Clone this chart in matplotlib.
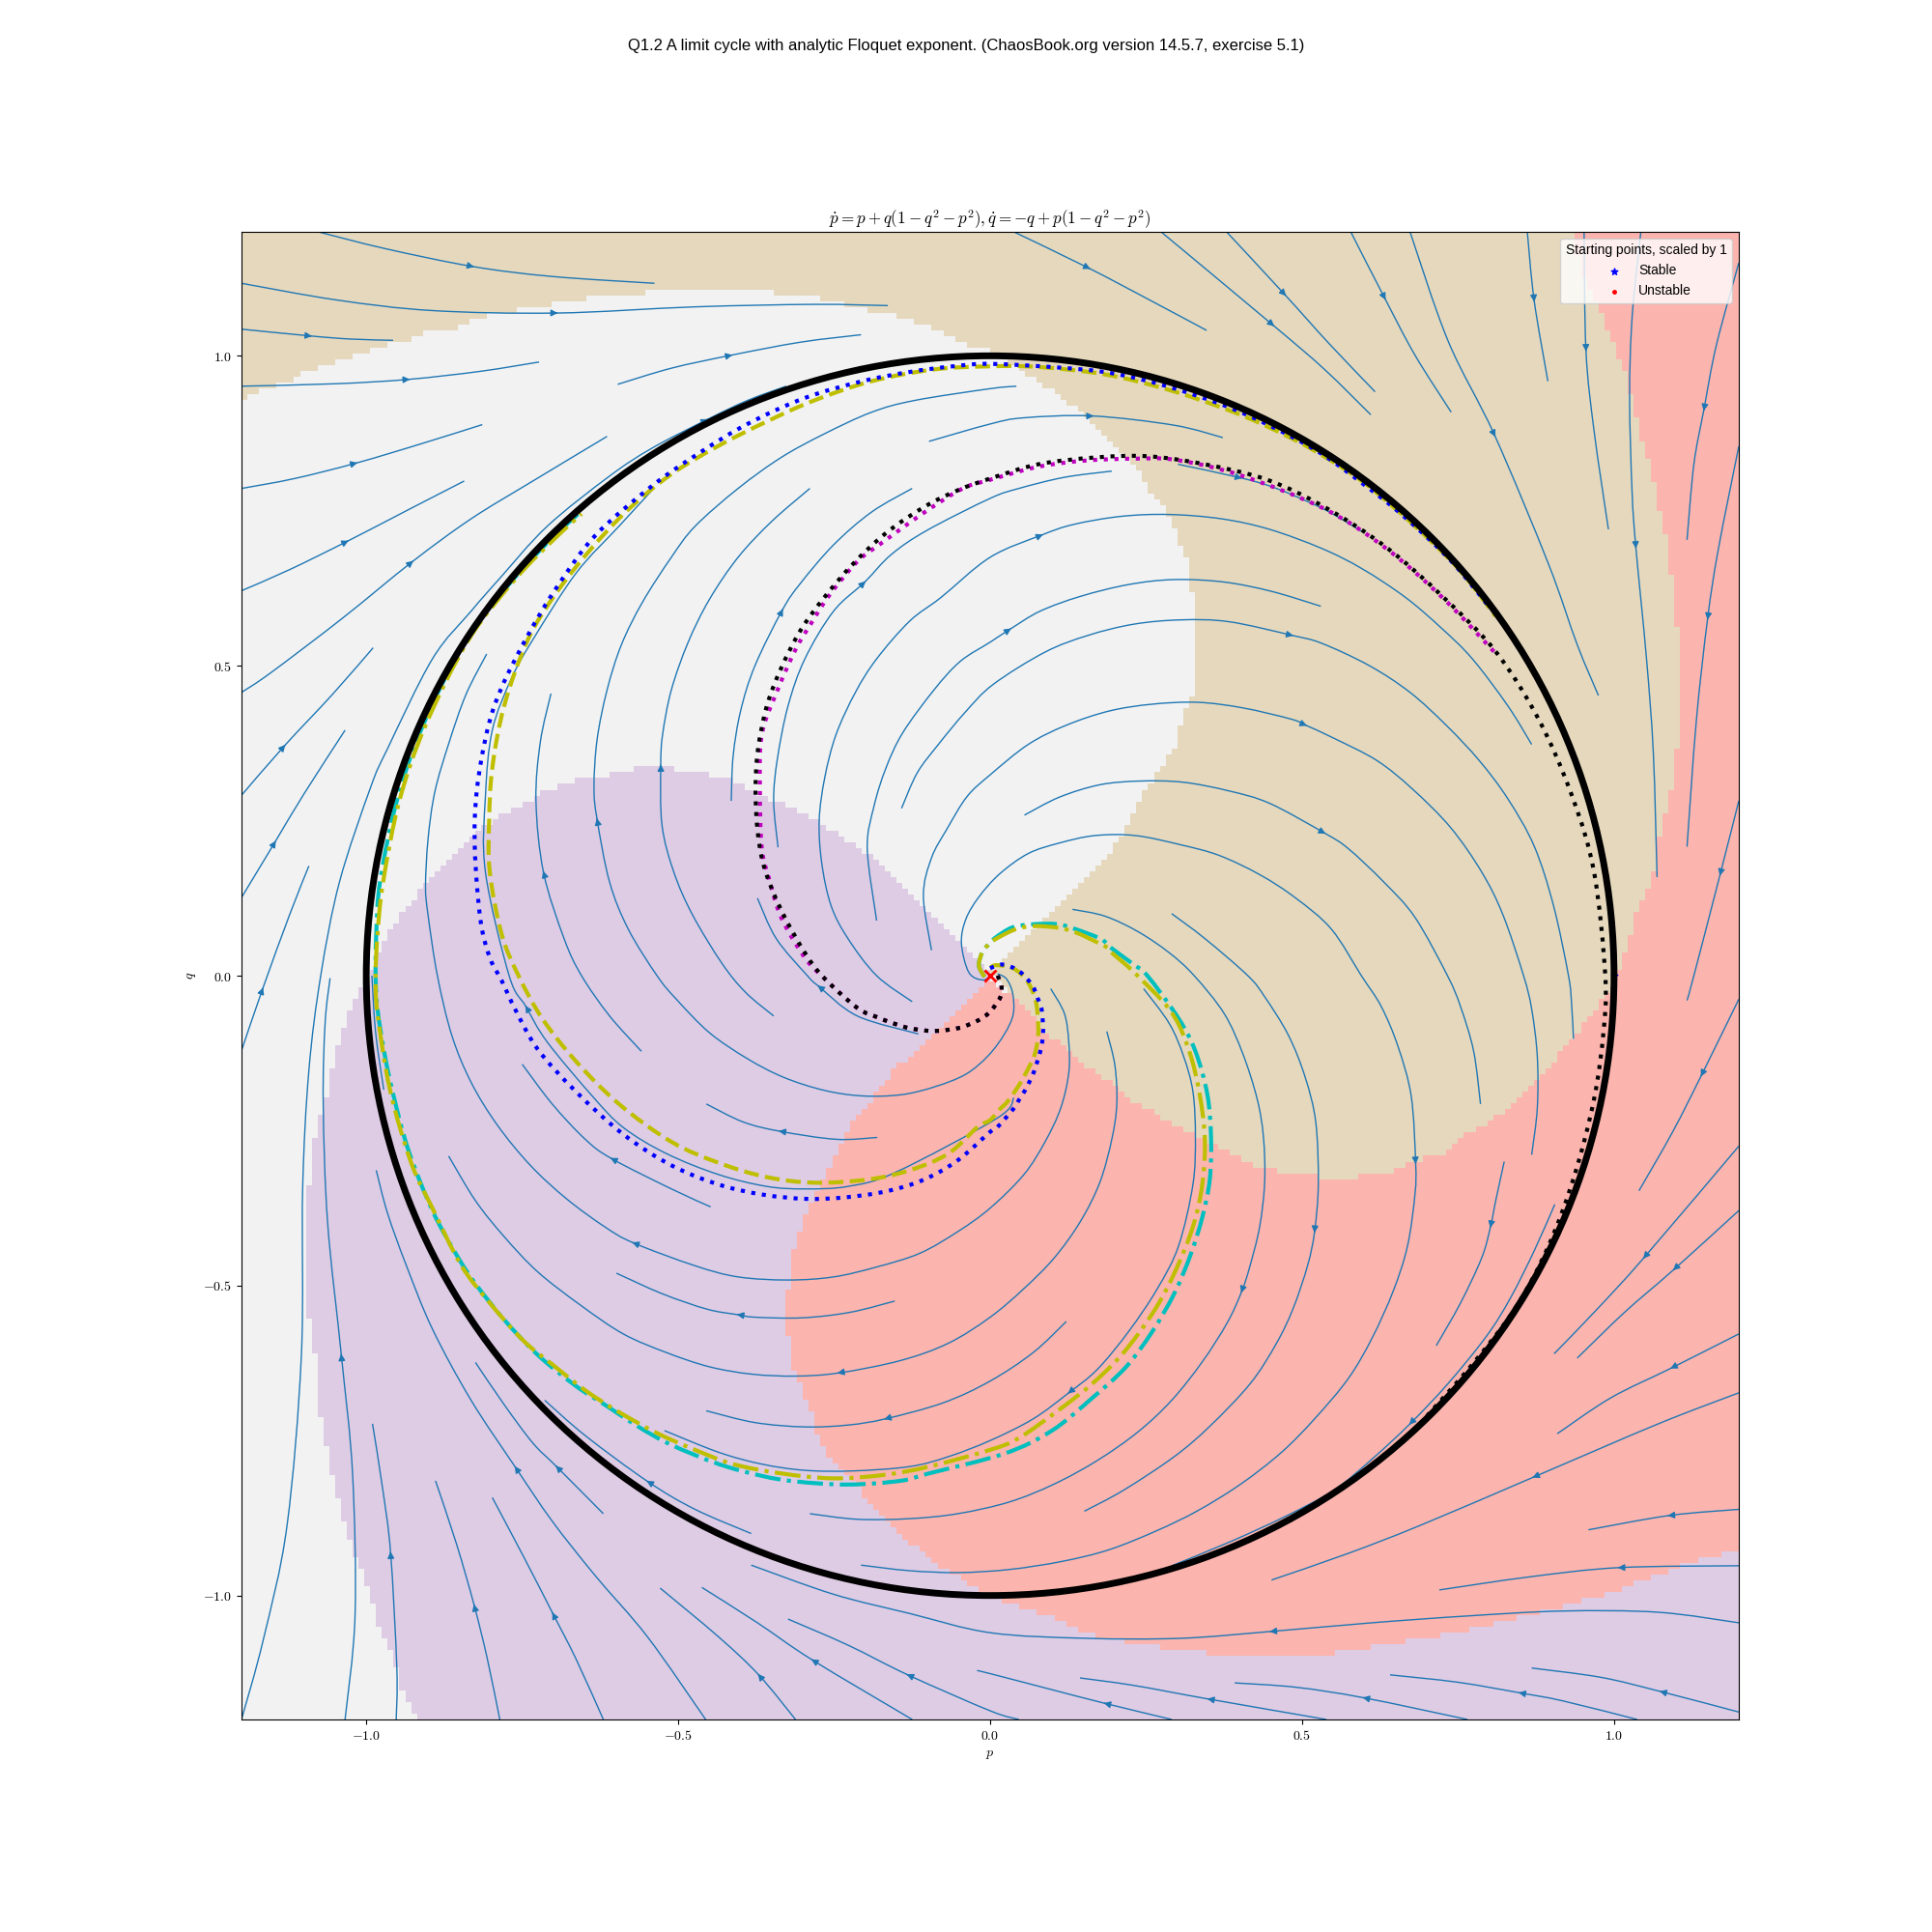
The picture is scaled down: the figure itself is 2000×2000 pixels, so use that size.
import numpy as np
import matplotlib
matplotlib.use("Agg")
import matplotlib.pyplot as plt
from matplotlib.colors import ListedColormap
from matplotlib.patches import Circle, FancyArrowPatch, PathPatch
from matplotlib.path import Path

plt.rcParams["font.family"] = ["Liberation Sans", "DejaVu Sans"]
plt.rcParams["mathtext.fontset"] = "cm"

# all values below are (p, q) pairs

# region borders, going out from the fixed point
edge_grey_tan = [(0, 0), (0.054, 0.060), (0.115, 0.121), (0.161, 0.167), (0.203, 0.213), (0.252, 0.304), (0.295, 0.366),
                 (0.314, 0.435), (0.325, 0.457), (0.333, 0.526), (0.325, 0.610), (0.314, 0.672), (0.298, 0.710),
                 (0.287, 0.741), (0.260, 0.779), (0.237, 0.817), (0.203, 0.855), (0.164, 0.894), (0.115, 0.932),
                 (0.050, 0.978), (0, 1.008), (-0.044, 1.020), (-0.090, 1.043), (-0.144, 1.062), (-0.228, 1.081),
                 (-0.289, 1.096), (-0.373, 1.104), (-0.522, 1.104), (-0.626, 1.096), (-0.691, 1.085), (-0.741, 1.077),
                 (-0.786, 1.069), (-0.825, 1.058), (-0.863, 1.043), (-0.901, 1.039), (-0.928, 1.027), (-0.985, 1.012),
                 (-1.012, 1.001), (-1.043, 0.993), (-1.069, 0.982), (-1.096, 0.974), (-1.115, 0.962), (-1.146, 0.951),
                 (-1.173, 0.943), (-1.192, 0.936), (-1.2, 0.926)]
edge_tan_red = [(0, 0), (0.031, -0.031), (0.057, -0.046), (0.084, -0.092), (0.126, -0.119), (0.153, -0.145), (0.199, -0.176),
                (0.230, -0.203), (0.268, -0.226), (0.314, -0.252), (0.367, -0.279), (0.421, -0.306), (0.459, -0.315),
                (0.532, -0.325), (0.578, -0.325), (0.643, -0.315), (0.681, -0.300), (0.727, -0.287), (0.757, -0.260),
                (0.796, -0.237), (0.830, -0.214), (0.864, -0.184), (0.895, -0.149), (0.926, -0.111), (0.956, -0.073),
                (0.979, -0.042), (1.002, 0), (1.017, 0.033), (1.040, 0.113), (1.063, 0.159), (1.075, 0.236), (1.094, 0.304),
                (1.105, 0.389), (1.105, 0.530), (1.094, 0.633), (1.086, 0.698), (1.075, 0.748), (1.056, 0.829),
                (1.033, 0.909), (1.021, 0.962), (0.998, 1.020), (0.972, 1.085), (0.952, 1.123), (0.933, 1.2)]
edge_red_purple = [(0, 0), (-0.029, -0.031), (-0.060, -0.069), (-0.113, -0.115), (-0.159, -0.157), (-0.182, -0.191),
                   (-0.220, -0.237), (-0.251, -0.295), (-0.289, -0.367), (-0.308, -0.421), (-0.316, -0.451), (-0.325, -0.520),
                   (-0.325, -0.570), (-0.316, -0.635), (-0.289, -0.696), (-0.278, -0.734), (-0.251, -0.788), (-0.228, -0.803),
                   (-0.205, -0.838), (-0.151, -0.895), (-0.090, -0.945), (-0.044, -0.975), (0, -1.002), (0.031, -1.010),
                   (0.096, -1.033), (0.153, -1.060), (0.191, -1.069), (0.241, -1.079), (0.295, -1.086), (0.383, -1.096),
                   (0.532, -1.096), (0.635, -1.079), (0.700, -1.067), (0.746, -1.060), (0.792, -1.050), (0.830, -1.039),
                   (0.868, -1.029), (0.933, -1.014), (0.964, -1.002), (0.995, -0.995), (1.048, -0.975), (1.105, -0.952),
                   (1.155, -0.937), (1.2, -0.927)]
edge_grey_purple = [(0, 0), (-0.029, 0.033), (-0.052, 0.060), (-0.090, 0.098), (-0.129, 0.136), (-0.167, 0.171), (-0.201, 0.201),
                    (-0.236, 0.220), (-0.274, 0.251), (-0.327, 0.278), (-0.366, 0.289), (-0.412, 0.314), (-0.450, 0.324),
                    (-0.515, 0.334), (-0.568, 0.334), (-0.610, 0.324), (-0.664, 0.314), (-0.691, 0.304), (-0.721, 0.295),
                    (-0.748, 0.278), (-0.798, 0.251), (-0.825, 0.228), (-0.844, 0.209), (-0.871, 0.182), (-0.909, 0.144),
                    (-0.928, 0.117), (-0.955, 0.083), (-0.974, 0.052), (-0.993, 0), (-1.012, -0.027), (-1.021, -0.046),
                    (-1.031, -0.061), (-1.039, -0.092), (-1.050, -0.122), (-1.060, -0.184), (-1.077, -0.230), (-1.088, -0.291),
                    (-1.096, -0.375), (-1.096, -0.520), (-1.088, -0.589), (-1.077, -0.627), (-1.077, -0.689), (-1.068, -0.738),
                    (-1.060, -0.784), (-1.050, -0.822), (-1.040, -0.861), (-1.031, -0.899), (-1.012, -0.952), (-0.995, -0.987),
                    (-0.985, -1.033), (-0.974, -1.067), (-0.955, -1.094), (-0.947, -1.140), (-0.936, -1.167), (-0.918, -1.2)]

# stream lines, in flow direction
s01 = [(-1.077, 1.2), (-0.970, 1.173), (-0.829, 1.144), (-0.702, 1.128), (-0.538, 1.117)]
s02 = [(-1.2, 1.117), (-1.047, 1.090), (-0.894, 1.073), (-0.695, 1.069), (-0.473, 1.079), (-0.282, 1.083), (-0.164, 1.081)]
s03 = [(-1.2, 1.043), (-1.089, 1.032), (-1.024, 1.027), (-0.957, 1.025)]
s04 = [(-1.2, 0.951), (-1.047, 0.955), (-0.932, 0.962), (-0.817, 0.975), (-0.723, 0.990)]
s05 = [(-0.597, 0.954), (-0.511, 0.980), (-0.415, 1.001), (-0.304, 1.022), (-0.207, 1.034)]
s06 = [(-1.2, 0.786), (-1.115, 0.802), (-1.016, 0.827), (-0.909, 0.859), (-0.814, 0.889)]
s07 = [(-1.2, 0.621), (-1.123, 0.655), (-1.030, 0.701), (-0.932, 0.752), (-0.843, 0.798)]
s08 = [(-1.2, 0.457), (-1.154, 0.488), (-1.039, 0.576), (-0.926, 0.668), (-0.832, 0.737), (-0.733, 0.798), (-0.614, 0.870)]
s09 = [(-1.2, 0.291), (-1.131, 0.371), (-1.054, 0.454), (-0.989, 0.529)]
s10 = [(-1.2, 0.126), (-1.146, 0.216), (-1.100, 0.293), (-1.034, 0.396)]
s11 = [(-1.2, -0.121), (-1.166, -0.021), (-1.123, 0.098), (-1.092, 0.177)]
s12 = [(-1.2, -1.2), (-1.165, -1.071), (-1.127, -0.887), (-1.104, -0.612), (-1.102, -0.344), (-1.092, -0.153), (-1.073, 0),
       (-1.043, 0.151), (-0.993, 0.304), (-0.966, 0.366), (-0.894, 0.511), (-0.832, 0.588), (-0.786, 0.641), (-0.710, 0.725),
       (-0.610, 0.806), (-0.542, 0.851), (-0.454, 0.897), (-0.389, 0.928), (-0.327, 0.951)]
s13 = [(-1.034, -1.2), (-1.018, -1.033), (-1.022, -0.803), (-1.040, -0.612), (-1.062, -0.398), (-1.069, -0.207), (-1.066, -0.077), (-1.058, -0.004)]
s14 = [(-0.952, -1.2), (-0.951, -1.117), (-0.961, -0.931), (-0.974, -0.826), (-0.990, -0.723)]
s15 = [(-0.786, -1.2), (-0.806, -1.102), (-0.827, -1.016), (-0.855, -0.918), (-0.889, -0.815)]
s16 = [(-0.620, -1.2), (-0.664, -1.102), (-0.701, -1.029), (-0.748, -0.937), (-0.798, -0.842)]
s17 = [(-0.456, -1.2), (-0.549, -1.067), (-0.633, -0.968), (-0.702, -0.880), (-0.761, -0.793), (-0.832, -0.685), (-0.894, -0.570),
       (-0.936, -0.467), (-0.966, -0.383), (-0.984, -0.314)]
s18 = [(-0.620, -0.868), (-0.695, -0.792), (-0.733, -0.754), (-0.779, -0.692), (-0.825, -0.624)]
s19 = [(-0.312, -1.2), (-0.371, -1.128), (-0.435, -1.067), (-0.529, -0.988)]
s20 = [(-0.125, -1.2), (-0.285, -1.104), (-0.373, -1.044), (-0.462, -0.987)]
s21 = [(0.046, -1.2), (0, -1.186), (-0.132, -1.128), (-0.228, -1.080), (-0.324, -1.038)]
s22 = [(0.291, -1.2), (0.184, -1.174), (0.084, -1.148), (0, -1.126), (-0.021, -1.121)]
s23 = [(0.539, -1.2), (0.350, -1.167), (0.230, -1.145), (0.144, -1.133)]
s24 = [(0.765, -1.2), (0.599, -1.165), (0.490, -1.148), (0.392, -1.141)]
s25 = [(1.037, -1.2), (0.918, -1.170), (0.849, -1.157), (0.750, -1.140), (0.641, -1.128)]
s26 = [(1.2, -1.188), (1.075, -1.155), (0.979, -1.132), (0.868, -1.117)]
s27 = [(1.2, -1.044), (1.071, -1.027), (0.918, -1.025), (0.765, -1.033), (0.612, -1.044), (0.450, -1.058), (0.306, -1.069),
       (0.153, -1.069), (0, -1.060), (-0.129, -1.029), (-0.251, -0.998), (-0.383, -0.951)]
s28 = [(1.2, -0.952), (1.008, -0.955), (0.864, -0.970), (0.720, -0.991)]
s29 = [(1.2, -0.861), (1.088, -0.871), (0.959, -0.894)]
s30 = [(1.2, -0.673), (1.071, -0.723), (0.871, -0.809), (0.689, -0.887), (0.574, -0.932), (0.451, -0.975)]
s31 = [(1.2, -0.578), (1.092, -0.633), (0.995, -0.681), (0.909, -0.739)]
s32 = [(1.2, -0.379), (1.096, -0.474), (1.017, -0.543), (0.941, -0.617)]
s33 = [(1.2, -0.275), (1.048, -0.455), (0.972, -0.539), (0.904, -0.610)]
s34 = [(1.2, -0.038), (1.140, -0.161), (1.094, -0.252), (1.040, -0.347)]
s35 = [(1.2, 0.282), (1.170, 0.163), (1.128, 0), (1.117, -0.040)]
s36 = [(1.2, 1.150), (1.164, 1.017), (1.144, 0.913), (1.128, 0.825), (1.117, 0.703)]
s37 = [(1.2, 0.854), (1.167, 0.687), (1.150, 0.576), (1.132, 0.412), (1.117, 0.208)]
s38 = [(1.043, 1.2), (1.029, 1.062), (1.025, 0.932), (1.029, 0.779), (1.035, 0.691), (1.052, 0.512), (1.063, 0.359), (1.069, 0.159)]
s39 = [(0.952, 1.2), (0.955, 1.009), (0.968, 0.879), (0.991, 0.720)]
s40 = [(0.861, 1.2), (0.872, 1.089), (0.894, 0.959)]
s41 = [(0.673, 1.2), (0.734, 1.024), (0.809, 0.871), (0.895, 0.664), (0.941, 0.534), (0.975, 0.452)]
s42 = [(0.578, 1.2), (0.633, 1.092), (0.681, 1.001), (0.739, 0.909)]
s43 = [(0.379, 1.2), (0.473, 1.098), (0.543, 1.020), (0.617, 0.942)]
s44 = [(0.274, 1.2), (0.454, 1.049), (0.536, 0.978), (0.610, 0.905)]
s45 = [(0.038, 1.2), (0.159, 1.141), (0.252, 1.092), (0.347, 1.041)]
s46 = [(-0.098, 0.862), (0, 0.890), (0.054, 0.900), (0.164, 0.903), (0.295, 0.888), (0.373, 0.868)]
s47 = [(0.003, 0.003), (-0.011, -0.007), (-0.034, 0.005), (-0.046, 0.052), (-0.039, 0.091), (-0.018, 0.127), (0.015, 0.164),
       (0.061, 0.197), (0.111, 0.214), (0.168, 0.226), (0.233, 0.226), (0.306, 0.211), (0.367, 0.194), (0.432, 0.163),
       (0.490, 0.125), (0.547, 0.075), (0.595, 0), (0.627, -0.050), (0.654, -0.115), (0.675, -0.195), (0.682, -0.302),
       (0.681, -0.352), (0.669, -0.436), (0.646, -0.509), (0.612, -0.585), (0.574, -0.650), (0.520, -0.715), (0.467, -0.769),
       (0.402, -0.820), (0.333, -0.863), (0.268, -0.895), (0.191, -0.926), (0.115, -0.945), (0.031, -0.958), (-0.050, -0.963),
       (-0.129, -0.960), (-0.207, -0.951)]
s48 = [(0.012, 0.003), (0.026, -0.005), (0.036, -0.028), (0.037, -0.062), (0.023, -0.094), (-0.003, -0.129), (-0.039, -0.159),
       (-0.088, -0.179), (-0.142, -0.192), (-0.205, -0.194), (-0.266, -0.185), (-0.331, -0.164), (-0.389, -0.134), (-0.450, -0.092),
       (-0.503, -0.038), (-0.534, 0), (-0.580, 0.075), (-0.610, 0.151), (-0.630, 0.252), (-0.635, 0.304), (-0.630, 0.381),
       (-0.614, 0.461), (-0.591, 0.534), (-0.557, 0.603), (-0.511, 0.675), (-0.473, 0.725), (-0.404, 0.786), (-0.335, 0.836),
       (-0.266, 0.874), (-0.190, 0.909), (-0.121, 0.928), (0, 0.947), (0.042, 0.951)]
s49 = [(0.097, -0.021), (0.119, -0.061), (0.126, -0.107), (0.126, -0.157), (0.113, -0.214), (0.088, -0.268), (0.054, -0.321), (0, -0.375),
       (-0.052, -0.413), (-0.113, -0.448), (-0.182, -0.470), (-0.251, -0.486), (-0.324, -0.491), (-0.404, -0.486), (-0.473, -0.468),
       (-0.572, -0.431), (-0.618, -0.405), (-0.679, -0.360), (-0.737, -0.306), (-0.790, -0.241), (-0.832, -0.172), (-0.863, -0.096),
       (-0.886, 0), (-0.901, 0.098), (-0.905, 0.144), (-0.901, 0.220), (-0.890, 0.297), (-0.867, 0.377), (-0.840, 0.454), (-0.807, 0.519)]
s50 = [(0.187, -0.090), (0.200, -0.145), (0.203, -0.207), (0.195, -0.264), (0.176, -0.333), (0.145, -0.396), (0.103, -0.455), (0.054, -0.505),
       (0, -0.551), (-0.067, -0.593), (-0.144, -0.621), (-0.243, -0.641), (-0.312, -0.646), (-0.381, -0.643), (-0.450, -0.631), (-0.519, -0.608),
       (-0.588, -0.578), (-0.656, -0.532), (-0.725, -0.478), (-0.779, -0.421), (-0.825, -0.363), (-0.868, -0.291)]
s51 = [(-0.153, -0.525), (-0.224, -0.543), (-0.301, -0.552), (-0.377, -0.551), (-0.404, -0.547), (-0.454, -0.538), (-0.526, -0.513), (-0.599, -0.480)]
s52 = [(0.122, -0.558), (0.069, -0.608), (0, -0.654), (-0.075, -0.689), (-0.168, -0.715), (-0.228, -0.725), (-0.297, -0.728), (-0.377, -0.721), (-0.455, -0.702)]
s53 = [(0.246, -0.021), (0.287, -0.077), (0.310, -0.130), (0.325, -0.187), (0.329, -0.260), (0.325, -0.337), (0.302, -0.436), (0.268, -0.505),
       (0.222, -0.574), (0.172, -0.635), (0.126, -0.673), (0.069, -0.715), (0, -0.750), (-0.067, -0.776), (-0.129, -0.792), (-0.220, -0.799),
       (-0.297, -0.798), (-0.366, -0.788), (-0.435, -0.769), (-0.522, -0.734)]
s54 = [(0.132, 0.107), (0.184, 0.096), (0.237, 0.071), (0.287, 0.037), (0.327, 0), (0.375, -0.061), (0.405, -0.126), (0.428, -0.199), (0.438, -0.260),
       (0.440, -0.333), (0.432, -0.405), (0.416, -0.470), (0.403, -0.510), (0.380, -0.560), (0.340, -0.623), (0.291, -0.685), (0.237, -0.736),
       (0.172, -0.782), (0.103, -0.820), (0.031, -0.849), (-0.052, -0.868), (-0.129, -0.876), (-0.213, -0.877), (-0.289, -0.868)]
s55 = [(0.291, 0.100), (0.344, 0.060), (0.413, 0), (0.440, -0.034), (0.478, -0.096), (0.505, -0.164), (0.522, -0.237), (0.526, -0.337), (0.520, -0.413),
       (0.509, -0.467), (0.486, -0.536), (0.459, -0.593), (0.417, -0.658), (0.352, -0.727), (0.295, -0.776), (0.214, -0.830), (0.151, -0.864)]
s56 = [(0.055, 0.259), (0.111, 0.288), (0.176, 0.308), (0.241, 0.314), (0.310, 0.312), (0.383, 0.298), (0.448, 0.278), (0.536, 0.230), (0.574, 0.205),
       (0.631, 0.151), (0.681, 0.094), (0.733, 0), (0.754, -0.050), (0.775, -0.122), (0.786, -0.207)]
s57 = [(-0.094, 0.041), (-0.107, 0.129), (-0.094, 0.190), (-0.069, 0.237), (-0.037, 0.289), (0, 0.324), (0.061, 0.373), (0.122, 0.404), (0.191, 0.427),
       (0.260, 0.438), (0.333, 0.441), (0.405, 0.432), (0.482, 0.414), (0.506, 0.404), (0.551, 0.383), (0.620, 0.347), (0.677, 0.301), (0.738, 0.239),
       (0.788, 0.167), (0.822, 0.098), (0.855, 0), (0.868, -0.054), (0.877, -0.130), (0.877, -0.214), (0.868, -0.289)]
s58 = [(-0.142, 0.270), (-0.117, 0.327), (-0.083, 0.373), (-0.040, 0.425), (0.005, 0.470), (0.088, 0.522), (0.157, 0.549), (0.230, 0.567),
       (0.306, 0.574), (0.383, 0.571), (0.484, 0.549), (0.532, 0.536), (0.608, 0.500), (0.673, 0.457), (0.731, 0.404), (0.784, 0.347), (0.830, 0.285),
       (0.872, 0.209), (0.903, 0.113), (0.927, 0), (0.932, -0.046), (0.935, -0.102)]
s59 = [(-0.182, 0.089), (-0.197, 0.205), (-0.186, 0.274), (-0.167, 0.335), (-0.140, 0.392), (-0.090, 0.461), (-0.048, 0.507), (0, 0.538), (0.032, 0.559),
       (0.080, 0.588), (0.145, 0.612), (0.222, 0.631), (0.295, 0.639), (0.375, 0.635), (0.451, 0.620), (0.530, 0.596)]
s60 = [(-0.125, -0.042), (-0.182, 0), (-0.228, 0.060), (-0.255, 0.113), (-0.270, 0.182), (-0.274, 0.251), (-0.265, 0.320), (-0.247, 0.389), (-0.216, 0.457),
       (-0.182, 0.511), (-0.129, 0.572), (-0.079, 0.610), (0, 0.675), (0.083, 0.711), (0.134, 0.728), (0.210, 0.741), (0.287, 0.744), (0.371, 0.737),
       (0.448, 0.720), (0.532, 0.689), (0.597, 0.656), (0.666, 0.610), (0.723, 0.561), (0.773, 0.511), (0.830, 0.435), (0.868, 0.373)]
s61 = [(-0.340, 0.207), (-0.347, 0.282), (-0.341, 0.350), (-0.324, 0.435), (-0.297, 0.511), (-0.251, 0.588), (-0.201, 0.635), (-0.159, 0.679), (-0.102, 0.718),
       (0, 0.770), (0.046, 0.786), (0.119, 0.804), (0.195, 0.814)]
s62 = [(0.301, 0.825), (0.402, 0.803), (0.459, 0.786), (0.536, 0.752), (0.597, 0.716)]
s63 = [(-0.115, -0.094), (-0.213, -0.065), (-0.275, -0.017), (-0.293, 0), (-0.343, 0.060), (-0.373, 0.125)]
s64 = [(-0.347, -0.065), (-0.392, -0.027), (-0.430, 0.020), (-0.477, 0.098), (-0.507, 0.167), (-0.526, 0.243), (-0.528, 0.339), (-0.525, 0.389), (-0.511, 0.461),
       (-0.484, 0.538), (-0.450, 0.607), (-0.404, 0.675), (-0.350, 0.733), (-0.289, 0.786)]
s65 = [(-0.415, 0.282), (-0.412, 0.354), (-0.400, 0.427), (-0.377, 0.500), (-0.333, 0.590), (-0.304, 0.633), (-0.251, 0.695), (-0.190, 0.748), (-0.125, 0.786)]
s66 = [(-0.559, -0.122), (-0.610, -0.065), (-0.655, 0), (-0.683, 0.060), (-0.716, 0.167), (-0.728, 0.282), (-0.721, 0.377), (-0.704, 0.455)]
s67 = [(0.038, -0.197), (0.011, -0.230), (-0.151, -0.317), (-0.228, -0.340), (-0.297, -0.344), (-0.358, -0.340), (-0.435, -0.321), (-0.519, -0.287), (-0.588, -0.245),
       (-0.637, -0.195), (-0.710, -0.107), (-0.744, -0.050), (-0.771, 0), (-0.809, 0.167), (-0.809, 0.289), (-0.798, 0.396), (-0.767, 0.480), (-0.733, 0.542),
       (-0.664, 0.649), (-0.595, 0.725), (-0.542, 0.783)]
s68 = [(-0.383, -0.900), (-0.473, -0.861), (-0.549, -0.816), (-0.649, -0.742), (-0.714, -0.685)]
s69 = [(-0.448, -0.373), (-0.511, -0.344), (-0.607, -0.295), (-0.649, -0.264), (-0.702, -0.207), (-0.750, -0.143)]
s70 = [(-0.181, -0.261), (-0.247, -0.264), (-0.337, -0.251), (-0.396, -0.236), (-0.455, -0.207)]
s71 = [(-0.972, -0.184), (-0.985, -0.092), (-0.991, 0)]
s72 = [(0.824, -0.300), (0.811, -0.360), (0.802, -0.405), (0.788, -0.455), (0.754, -0.528), (0.715, -0.597)]
s73 = [(0.905, -0.369), (0.872, -0.444), (0.834, -0.520), (0.796, -0.581), (0.734, -0.658), (0.673, -0.723), (0.612, -0.780), (0.551, -0.830), (0.474, -0.872),
       (0.383, -0.914), (0.291, -0.952)]

# arrow heads on the stream lines
arrow_heads = [(-0.829, 1.144), (-0.695, 1.069), (-1.089, 1.032), (-0.932, 0.962), (-0.415, 1.001), (-1.016, 0.827), (-1.030, 0.701), (-0.926, 0.668),
               (-1.131, 0.371), (-1.146, 0.216), (-1.166, -0.021), (-0.454, 0.897), (-1.040, -0.612), (-0.961, -0.931), (-0.827, -1.016), (-0.701, -1.029),
               (-0.761, -0.793), (-0.695, -0.792), (-0.371, -1.128), (-0.285, -1.104), (-0.132, -1.128), (0.184, -1.174), (0.350, -1.167), (0.599, -1.165),
               (0.849, -1.157), (1.075, -1.155), (0.450, -1.058), (1.008, -0.955), (1.088, -0.871), (0.871, -0.809), (1.092, -0.633), (1.096, -0.474),
               (1.048, -0.455), (1.140, -0.161), (1.170, 0.163), (1.144, 0.913), (1.150, 0.576), (1.035, 0.691), (0.955, 1.009), (0.872, 1.089),
               (0.809, 0.871), (0.633, 1.092), (0.473, 1.098), (0.454, 1.049), (0.159, 1.141), (0.164, 0.903), (0.682, -0.302), (-0.630, 0.252),
               (-0.572, -0.431), (-0.243, -0.641), (-0.404, -0.547), (-0.168, -0.715), (0.126, -0.673), (0.403, -0.510), (0.520, -0.413), (0.536, 0.230),
               (0.506, 0.404), (0.484, 0.549), (0.032, 0.559), (0.083, 0.711), (-0.201, 0.635), (0.402, 0.803), (-0.275, -0.017), (-0.528, 0.339),
               (-0.333, 0.590), (-0.716, 0.167), (-0.744, -0.050), (-0.549, -0.816), (-0.607, -0.295), (-0.337, -0.251), (0.802, -0.405), (0.673, -0.723)]

# orbits started near the unstable point
orbit_black_dots = [(0.012, 0), (0.018, -0.016), (0.017, -0.033), (0.008, -0.048), (-0.003, -0.061), (-0.017, -0.071), (-0.032, -0.078), (-0.048, -0.084),
                    (-0.065, -0.087), (-0.082, -0.089), (-0.099, -0.089), (-0.116, -0.087), (-0.133, -0.084), (-0.149, -0.079), (-0.166, -0.073), (-0.181, -0.067),
                    (-0.213, -0.052), (-0.266, -0.004), (-0.297, 0.037), (-0.335, 0.106), (-0.362, 0.174), (-0.373, 0.236), (-0.376, 0.304), (-0.372, 0.366),
                    (-0.358, 0.435), (-0.335, 0.496), (-0.304, 0.557), (-0.266, 0.610), (-0.220, 0.664), (-0.167, 0.714), (-0.106, 0.756), (-0.052, 0.783),
                    (0, 0.802), (0.077, 0.825), (0.168, 0.836), (0.252, 0.838), (0.344, 0.825), (0.444, 0.800), (0.536, 0.756), (0.635, 0.691), (0.727, 0.610),
                    (0.811, 0.522), (0.880, 0.412), (0.933, 0.289), (0.968, 0.167), (0.986, 0), (0.983, -0.092), (0.968, -0.199), (0.937, -0.321), (0.895, -0.436),
                    (0.842, -0.536), (0.773, -0.627), (0.696, -0.715)]
orbit_magenta_dots = [(0.012, 0), (0.018, -0.016), (0.017, -0.033), (0.008, -0.048), (-0.003, -0.061), (-0.017, -0.071), (-0.032, -0.078), (-0.048, -0.084),
                      (-0.065, -0.087), (-0.082, -0.089), (-0.099, -0.089), (-0.116, -0.087), (-0.133, -0.084), (-0.149, -0.079), (-0.166, -0.073), (-0.181, -0.067),
                      (-0.213, -0.052), (-0.266, -0.004), (-0.297, 0.029), (-0.335, 0.094), (-0.354, 0.155), (-0.366, 0.205), (-0.369, 0.297), (-0.366, 0.389),
                      (-0.339, 0.465), (-0.312, 0.526), (-0.289, 0.565), (-0.259, 0.612), (-0.213, 0.668), (-0.174, 0.698), (-0.106, 0.747), (-0.044, 0.786),
                      (0, 0.800), (0.077, 0.821), (0.153, 0.831), (0.230, 0.834), (0.298, 0.832), (0.402, 0.807), (0.536, 0.753), (0.635, 0.689), (0.727, 0.608),
                      (0.811, 0.519)]
orbit_blue_dots = [(0, 0.012), (0.017, 0.018), (0.034, 0.014), (0.048, 0.006), (0.060, -0.006), (0.070, -0.020), (0.076, -0.036), (0.082, -0.052), (0.084, -0.069),
                   (0.085, -0.086), (0.084, -0.103), (0.081, -0.120), (0.076, -0.137), (0.071, -0.153), (0.064, -0.169), (0.056, -0.185), (0.047, -0.199), (0.038, -0.214),
                   (0.011, -0.245), (0, -0.252), (-0.052, -0.298), (-0.106, -0.329), (-0.167, -0.348), (-0.236, -0.358), (-0.297, -0.360), (-0.366, -0.353), (-0.435, -0.337),
                   (-0.511, -0.306), (-0.588, -0.256), (-0.664, -0.187), (-0.725, -0.119), (-0.760, -0.057), (-0.783, -0.008), (-0.802, 0.029), (-0.817, 0.090), (-0.826, 0.205),
                   (-0.823, 0.297), (-0.806, 0.396), (-0.783, 0.465), (-0.741, 0.549), (-0.695, 0.626), (-0.633, 0.710), (-0.542, 0.790), (-0.465, 0.844), (-0.389, 0.890),
                   (-0.297, 0.932), (-0.205, 0.959), (-0.129, 0.974), (-0.060, 0.983), (0, 0.987), (0.111, 0.981), (0.195, 0.972), (0.283, 0.951), (0.375, 0.920), (0.451, 0.886),
                   (0.528, 0.844), (0.597, 0.794), (0.662, 0.742), (0.738, 0.670), (0.800, 0.595)]
orbit_yellow_dash = [(0, 0.013), (0.010, 0.017), (0.034, 0.013), (0.049, 0.003), (0.062, -0.013), (0.072, -0.036), (0.076, -0.062), (0.077, -0.096), (0.072, -0.125),
                     (0.062, -0.148), (0.046, -0.177), (0.028, -0.203), (0.015, -0.216), (0, -0.233), (-0.021, -0.245), (-0.067, -0.287), (-0.129, -0.314), (-0.197, -0.329),
                     (-0.282, -0.334), (-0.358, -0.325), (-0.435, -0.302), (-0.511, -0.268), (-0.595, -0.207), (-0.664, -0.138), (-0.718, -0.069), (-0.756, 0), (-0.783, 0.067),
                     (-0.802, 0.167), (-0.803, 0.251), (-0.798, 0.335), (-0.779, 0.435), (-0.741, 0.542), (-0.695, 0.618), (-0.641, 0.687), (-0.580, 0.752), (-0.511, 0.809),
                     (-0.435, 0.855), (-0.358, 0.894), (-0.282, 0.928), (-0.190, 0.959), (-0.090, 0.978), (0, 0.983), (0.077, 0.982), (0.184, 0.970), (0.283, 0.946), (0.375, 0.915),
                     (0.444, 0.886), (0.523, 0.845), (0.615, 0.783), (0.740, 0.668), (0.810, 0.580)]
orbit_cyan_dashdot = [(-0.009, -0.002), (-0.018, 0.016), (-0.013, 0.037), (-0.004, 0.049), (0.008, 0.061), (0.036, 0.078), (0.070, 0.083), (0.108, 0.083), (0.137, 0.075),
                      (0.174, 0.061), (0.186, 0.053), (0.195, 0.044), (0.230, 0.018), (0.252, 0), (0.302, -0.069), (0.329, -0.122), (0.348, -0.191), (0.354, -0.260), (0.352, -0.329),
                      (0.340, -0.390), (0.321, -0.451), (0.295, -0.513), (0.260, -0.574), (0.218, -0.631), (0.164, -0.681), (0.099, -0.734), (0.023, -0.771), (-0.098, -0.803),
                      (-0.144, -0.815), (-0.228, -0.821), (-0.312, -0.816), (-0.366, -0.807), (-0.435, -0.788), (-0.511, -0.757), (-0.565, -0.727), (-0.618, -0.692), (-0.664, -0.662),
                      (-0.725, -0.612), (-0.779, -0.555), (-0.825, -0.497), (-0.855, -0.451), (-0.894, -0.379), (-0.932, -0.283), (-0.955, -0.199), (-0.970, -0.130), (-0.982, -0.054),
                      (-0.985, 0), (-0.984, 0.067), (-0.978, 0.151), (-0.951, 0.282), (-0.909, 0.404), (-0.840, 0.542), (-0.763, 0.641), (-0.700, 0.708), (-0.660, 0.745)]
orbit_yellow_dashdot = [(-0.009, -0.002), (-0.018, 0.016), (-0.013, 0.037), (-0.004, 0.049), (0.007, 0.058), (0.041, 0.075), (0.072, 0.080), (0.111, 0.077), (0.139, 0.069),
                        (0.175, 0.052), (0.188, 0.045), (0.195, 0.037), (0.230, 0.006), (0.287, -0.054), (0.314, -0.107), (0.333, -0.176), (0.344, -0.260), (0.340, -0.337),
                        (0.325, -0.405), (0.298, -0.474), (0.264, -0.539), (0.214, -0.608), (0.164, -0.658), (0.111, -0.700), (0.046, -0.746), (0, -0.765), (-0.098, -0.792),
                        (-0.167, -0.805), (-0.251, -0.811), (-0.335, -0.803), (-0.412, -0.788), (-0.473, -0.765), (-0.534, -0.738), (-0.595, -0.704), (-0.649, -0.669), (-0.702, -0.627),
                        (-0.748, -0.589), (-0.802, -0.528), (-0.848, -0.467), (-0.894, -0.375), (-0.928, -0.302), (-0.962, -0.184), (-0.982, -0.061), (-0.985, 0), (-0.982, 0.067),
                        (-0.973, 0.151), (-0.947, 0.282), (-0.905, 0.404), (-0.836, 0.542), (-0.760, 0.641), (-0.697, 0.706), (-0.655, 0.745)]
cycle_centre = (0.0, 0.0)
cycle_radius = 1.0

tick_values = [-1.0, -0.5, 0.0, 0.5, 1.0]
tick_labels = ["$-1.0$", "$-0.5$", "$0.0$", "$0.5$", "$1.0$"]
region_colours = ["#f2f2f2", "#e5d8bd", "#fbb4ae", "#decbe4"]

streams = [s01, s02, s03, s04, s05, s06, s07, s08, s09, s10, s11, s12, s13, s14, s15, s16, s17, s18, s19, s20, s21, s22, s23, s24, s25,
           s26, s27, s28, s29, s30, s31, s32, s33, s34, s35, s36, s37, s38, s39, s40, s41, s42, s43, s44, s45, s46, s47, s48, s49, s50,
           s51, s52, s53, s54, s55, s56, s57, s58, s59, s60, s61, s62, s63, s64, s65, s66, s67, s68, s69, s70, s71, s72, s73]


def draw_curve(ax, pts, **kwargs):
    # round the read points with cubic pieces through them, so no corners show
    a = np.array(pts, dtype=float)
    verts = [a[0]]
    codes = [Path.MOVETO]
    for i in range(len(a) - 1):
        before = a[max(i - 1, 0)]
        after = a[min(i + 2, len(a) - 1)]
        verts += [a[i] + (a[i + 1] - before)/6.0, a[i + 1] - (after - a[i])/6.0, a[i + 1]]
        codes += [Path.CURVE4, Path.CURVE4, Path.CURVE4]
    ax.add_patch(PathPatch(Path(verts, codes), fill=False, capstyle="butt", joinstyle="round", **kwargs))


def heading_at(pt):
    # direction of the stream line segment closest to pt
    best = None
    best_d = 1e9
    pt = np.array(pt)
    for line in streams:
        a = np.array(line)
        for i in range(len(a) - 1):
            seg = a[i + 1] - a[i]
            t = np.clip(np.dot(pt - a[i], seg)/np.dot(seg, seg), 0, 1)
            d = np.linalg.norm(a[i] + t*seg - pt)
            if d < best_d:
                best_d = d
                best = seg
    return best/np.linalg.norm(best)


# background cells, classified from the read borders
edges = np.linspace(-1.2, 1.2, 257)
centres = 0.5*(edges[1:] + edges[:-1])
pp, qq = np.meshgrid(centres, centres)
cells = np.column_stack([pp.ravel(), qq.ravel()])

tan_poly = edge_grey_tan + [(-1.2, 1.2)] + edge_tan_red[::-1]
red_poly = edge_tan_red + [(1.2, 1.2)] + edge_red_purple[::-1]
purple_poly = edge_red_purple + [(1.2, -1.2)] + edge_grey_purple[::-1]

region = np.zeros(len(cells), dtype=int)
region[Path(tan_poly).contains_points(cells)] = 1
region[Path(red_poly).contains_points(cells)] = 2
region[Path(purple_poly).contains_points(cells)] = 3
region = region.reshape(pp.shape)

fig = plt.figure(figsize=(20, 20), dpi=100)
ax = fig.add_subplot(111)
fig.suptitle("Q1.2 A limit cycle with analytic Floquet exponent. (ChaosBook.org version 14.5.7, exercise 5.1)", fontsize=12)

ax.pcolormesh(edges, edges, region, cmap=ListedColormap(region_colours), vmin=-0.5, vmax=3.5, antialiased=False)

for line in streams:
    draw_curve(ax, line, edgecolor="C0", lw=1.0, zorder=2)
for head in arrow_heads:
    u = heading_at(head)
    ax.add_patch(FancyArrowPatch(head, (head[0] + 0.002*u[0], head[1] + 0.002*u[1]), arrowstyle="-|>", mutation_scale=10,
                                 color="C0", lw=1.0, shrinkA=0, shrinkB=0, zorder=2))

draw_curve(ax, orbit_cyan_dashdot, edgecolor=(0, 0.75, 0.75), ls="-.", lw=3, zorder=3)
draw_curve(ax, orbit_yellow_dashdot, edgecolor=(0.75, 0.75, 0), ls="-.", lw=3, zorder=3)
draw_curve(ax, orbit_yellow_dash, edgecolor=(0.75, 0.75, 0), ls="--", lw=3, zorder=3)
draw_curve(ax, orbit_blue_dots, edgecolor="b", ls=":", lw=3, zorder=3)
draw_curve(ax, orbit_magenta_dots, edgecolor=(0.75, 0, 0.75), ls=":", lw=3, zorder=3)
draw_curve(ax, orbit_black_dots, edgecolor="k", ls=":", lw=3, zorder=3)
ax.add_patch(Circle(cycle_centre, cycle_radius, fill=False, edgecolor="k", lw=5, zorder=4))

ax.scatter([1.0], [0.0], c="b", marker="*", s=25, label="Stable", zorder=3)
ax.scatter([0.0], [0.0], c="r", marker=".", s=25, label="Unstable", zorder=5)
ax.plot([0.0], [0.0], color="r", marker="x", ms=9, mew=2, ls="none", zorder=5)

ax.set_xlim(-1.2, 1.2)
ax.set_ylim(-1.2, 1.2)
ax.set_xticks(tick_values)
ax.set_xticklabels(tick_labels)
ax.set_yticks(tick_values)
ax.set_yticklabels(tick_labels)
ax.set_xlabel("$p$")
ax.set_ylabel("$q$")
ax.set_title(r"$\dot{p} = p + q(1 - q^2 - p^2), \dot{q} = -q + p(1 - q^2 - p^2)$", fontsize=12.3)
ax.legend(title="Starting points, scaled by 1", loc="upper right", fontsize=10)

fig.savefig("out.png", dpi=100)
